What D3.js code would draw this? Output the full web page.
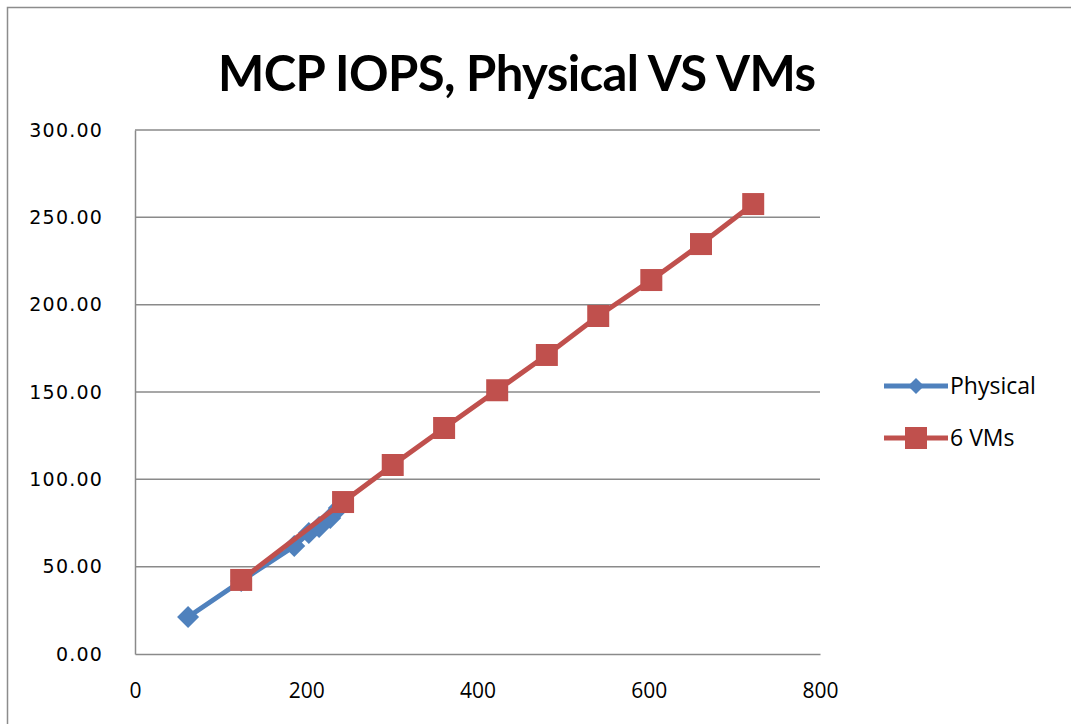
<!DOCTYPE html>
<html>
<head>
<meta charset="utf-8">
<script src="https://cdn.jsdelivr.net/npm/d3@7"></script>
<style>
  body { margin: 0; background: #fff; }
  svg { display: block; }
</style>
</head>
<body>
<div id="chart"></div>
<script>
// chart data
const title = 'MCP IOPS, Physical VS VMs';
const seriesNames = ['Physical', '6 VMs'];
const physicalX = [62, 124, 186, 203, 215, 228, 238];
const physicalY = [21.2, 41.8, 61.8, 69.3, 72.7, 77.9, 83.6];
const vmsX = [124, 243, 301, 361, 423, 481, 541, 603, 661, 722];
const vmsY = [42.4, 87.0, 108.2, 129.4, 151.0, 171.2, 193.5, 214.1, 234.7, 257.6];
const xTicks = [0, 200, 400, 600, 800];
const yTicks = [0, 50, 100, 150, 200, 250, 300];

const colors = ['#4F81BD', '#C0504D'];

const width = 1071, height = 724;
const margin = { top: 130, right: 251, bottom: 70, left: 135 };
const innerW = width - margin.left - margin.right;
const innerH = height - margin.top - margin.bottom;

const svg = d3.select('#chart').append('svg')
  .attr('width', width)
  .attr('height', height);

/* outer chart border (only top and left visible in the crop) */
svg.append('rect')
  .attr('x', 7.5).attr('y', 7.5)
  .attr('width', width + 20).attr('height', height + 20)
  .attr('fill', '#fff')
  .attr('stroke', '#8c8c8c')
  .attr('stroke-width', 1.5);

svg.append('text')
  .attr('x', 517).attr('y', 91)
  .attr('text-anchor', 'middle')
  .attr('font-family', 'Lato, "Open Sans", sans-serif')
  .attr('font-weight', 'bold')
  .attr('font-size', 49)
  .attr('textLength', 598)
  .attr('fill', '#000')
  .text(title);

const x = d3.scaleLinear().domain([0, 800]).range([0, innerW]);
const y = d3.scaleLinear().domain([0, 300]).range([innerH, 0]);

const g = svg.append('g')
  .attr('transform', `translate(${margin.left},${margin.top})`);

/* gridlines */
g.append('g')
  .selectAll('line')
  .data(yTicks.filter((d) => d > 0))
  .join('line')
  .attr('x1', 0).attr('x2', innerW)
  .attr('y1', (d) => y(d)).attr('y2', (d) => y(d))
  .attr('stroke', '#8a8a8a')
  .attr('stroke-width', 1.5);

/* y axis */
const yAxis = g.append('g')
  .call(d3.axisLeft(y).tickValues(yTicks).tickFormat(d3.format('.2f')).tickSize(0).tickPadding(32));
yAxis.select('.domain').attr('stroke', '#8a8a8a').attr('stroke-width', 1.5);
yAxis.selectAll('text')
  .attr('font-family', '"DejaVu Sans", Verdana, sans-serif')
  .attr('font-size', 19)
  .attr('letter-spacing', 1.2)
  .attr('fill', '#000');

/* x axis */
const xAxis = g.append('g')
  .attr('transform', `translate(0,${innerH})`)
  .call(d3.axisBottom(x).tickValues(xTicks).tickFormat(d3.format('d')).tickSize(0).tickPadding(29));
xAxis.select('.domain').attr('stroke', '#8a8a8a').attr('stroke-width', 1.5);
xAxis.selectAll('text')
  .attr('font-family', '"Open Sans", sans-serif')
  .attr('font-size', 21)
  .attr('fill', '#000');

const line = d3.line()
  .x((d) => x(d[0]))
  .y((d) => y(d[1]));

const series = [
  d3.zip(physicalX, physicalY),
  d3.zip(vmsX, vmsY),
];

/* square-ish diamond like the spreadsheet marker */
const diamondPath = (r) => `M0,${-r}L${r},0L0,${r}L${-r},0Z`;
const squarePath = (r) => `M${-r},${-r}H${r}V${r}H${-r}Z`;
const markers = [diamondPath(11), squarePath(11)];
const legendMarkers = [diamondPath(8), squarePath(11)];

series.forEach((pts, i) => {
  g.append('path')
    .datum(pts)
    .attr('fill', 'none')
    .attr('stroke', colors[i])
    .attr('stroke-width', 5)
    .attr('stroke-linejoin', 'round')
    .attr('d', line);

  g.append('g')
    .selectAll('path')
    .data(pts)
    .join('path')
    .attr('transform', (d) => `translate(${x(d[0])},${y(d[1])})`)
    .attr('d', markers[i])
    .attr('fill', colors[i]);
});

/* legend */
const legend = svg.append('g')
  .selectAll('g')
  .data(seriesNames)
  .join('g')
  .attr('transform', (d, i) => `translate(884,${386 + i * 52})`);

legend.append('line')
  .attr('x1', 0).attr('x2', 64)
  .attr('stroke', (d, i) => colors[i])
  .attr('stroke-width', 5);

legend.append('path')
  .attr('transform', 'translate(32,0)')
  .attr('d', (d, i) => legendMarkers[i])
  .attr('fill', (d, i) => colors[i]);

legend.append('text')
  .attr('x', 66).attr('y', 8)
  .attr('font-family', '"Open Sans", sans-serif')
  .attr('font-size', 23)
  .attr('fill', '#000')
  .text((d) => d);
</script>
</body>
</html>
